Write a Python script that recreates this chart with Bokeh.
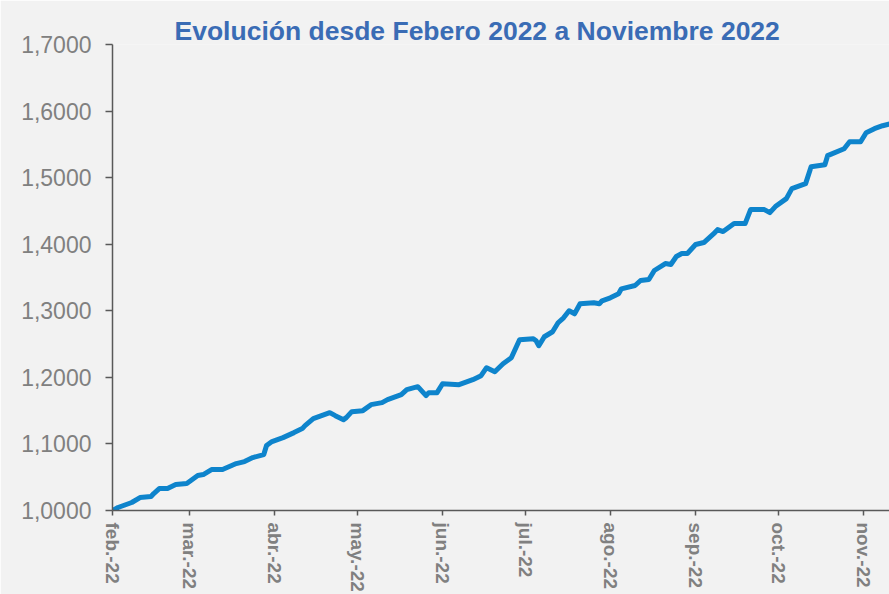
import math
import pandas as pd
from bokeh.plotting import figure
from bokeh.models import FixedTicker, Range1d, ColumnDataSource
from bokeh.embed import file_html
from bokeh.resources import INLINE

title_text = "Evolución desde Febero 2022 a  Noviembre 2022"

dates = [
    "2022-02-01", "2022-02-03", "2022-02-06", "2022-02-08", "2022-02-11", "2022-02-15",
    "2022-02-16", "2022-02-18", "2022-02-21", "2022-02-24", "2022-02-28", "2022-03-02",
    "2022-03-04", "2022-03-06", "2022-03-09", "2022-03-13", "2022-03-18", "2022-03-21",
    "2022-03-24", "2022-03-28", "2022-03-29", "2022-03-31", "2022-04-04", "2022-04-08",
    "2022-04-11", "2022-04-12", "2022-04-15", "2022-04-18", "2022-04-21", "2022-04-23",
    "2022-04-26", "2022-04-27", "2022-04-29", "2022-05-03", "2022-05-06", "2022-05-10",
    "2022-05-12", "2022-05-16", "2022-05-17", "2022-05-19", "2022-05-23", "2022-05-26",
    "2022-05-27", "2022-05-30", "2022-06-01", "2022-06-07", "2022-06-12", "2022-06-15",
    "2022-06-17", "2022-06-20", "2022-06-23", "2022-06-26", "2022-06-29", "2022-07-04",
    "2022-07-05", "2022-07-06", "2022-07-08", "2022-07-11", "2022-07-13", "2022-07-15",
    "2022-07-17", "2022-07-19", "2022-07-21", "2022-07-26", "2022-07-28", "2022-07-29",
    "2022-08-01", "2022-08-04", "2022-08-05", "2022-08-10", "2022-08-12", "2022-08-15",
    "2022-08-17", "2022-08-21", "2022-08-23", "2022-08-25", "2022-08-27", "2022-08-29",
    "2022-09-01", "2022-09-04", "2022-09-08", "2022-09-09", "2022-09-11", "2022-09-15",
    "2022-09-19", "2022-09-21", "2022-09-26", "2022-09-28", "2022-09-30", "2022-10-04",
    "2022-10-06", "2022-10-11", "2022-10-13", "2022-10-18", "2022-10-19", "2022-10-25",
    "2022-10-27", "2022-10-31", "2022-11-02", "2022-11-05", "2022-11-08", "2022-11-11",
]

values = [
    1.0000, 1.0045, 1.0090, 1.0120, 1.0195, 1.0210,
    1.0255, 1.0330, 1.0330, 1.0390, 1.0405, 1.0465,
    1.0525, 1.0540, 1.0615, 1.0615, 1.0705, 1.0735,
    1.0795, 1.0840, 1.0975, 1.1035, 1.1095, 1.1170,
    1.1230, 1.1275, 1.1380, 1.1425, 1.1470, 1.1425,
    1.1365, 1.1395, 1.1485, 1.1500, 1.1590, 1.1620,
    1.1665, 1.1725, 1.1740, 1.1815, 1.1860, 1.1725,
    1.1770, 1.1770, 1.1905, 1.1890, 1.1965, 1.2025,
    1.2145, 1.2085, 1.2205, 1.2295, 1.2565, 1.2580,
    1.2550, 1.2475, 1.2610, 1.2685, 1.2820, 1.2895,
    1.3000, 1.2955, 1.3105, 1.3120, 1.3105, 1.3150,
    1.3195, 1.3255, 1.3330, 1.3380, 1.3455, 1.3470,
    1.3605, 1.3710, 1.3695, 1.3815, 1.3860, 1.3860,
    1.3995, 1.4025, 1.4175, 1.4220, 1.4190, 1.4310,
    1.4310, 1.4520, 1.4520, 1.4475, 1.4565, 1.4685,
    1.4835, 1.4910, 1.5165, 1.5195, 1.5330, 1.5435,
    1.5540, 1.5540, 1.5675, 1.5735, 1.5780, 1.5810,
]

tick_dates = ["2022-02-01", "2022-03-01", "2022-04-01", "2022-05-01", "2022-06-01",
              "2022-07-01", "2022-08-01", "2022-09-01", "2022-10-01", "2022-11-01"]
tick_labels = ["feb.-22", "mar.-22", "abr.-22", "may.-22", "jun.-22",
               "jul.-22", "ago.-22", "sep.-22", "oct.-22", "nov.-22"]

y_ticks = [1.0, 1.1, 1.2, 1.3, 1.4, 1.5, 1.6, 1.7]
y_tick_labels = ["1,0000", "1,1000", "1,2000", "1,3000", "1,4000", "1,5000", "1,6000", "1,7000"]

base = pd.Timestamp(dates[0])
x_days = [int((pd.Timestamp(d) - base).days) for d in dates]
tick_days = [int((pd.Timestamp(d) - base).days) for d in tick_dates]

src = ColumnDataSource(dict(x=x_days, y=values))

BG = "#f2f2f2"
p = figure(width=889, height=594, output_backend="svg", toolbar_location=None,
           x_range=Range1d(0, x_days[-1] - 0.5), y_range=Range1d(y_ticks[0], y_ticks[-1]),
           background_fill_color=BG, border_fill_color=BG,
           min_border_left=112, min_border_right=0, min_border_top=44, min_border_bottom=84)
p.outline_line_color = None
p.grid.visible = False

p.line("x", "y", source=src, line_color="#0E84CC", line_width=5,
       line_join="round", line_cap="round")

p.title.text = title_text
p.title.align = "left"
p.title.offset = 62
p.title.standoff = -3
p.title.text_font = "Liberation Sans"
p.title.text_font_size = "26.5px"
p.title.text_font_style = "bold"
p.title.text_color = "#3A6CB5"

ya = p.yaxis[0]
ya.ticker = FixedTicker(ticks=y_ticks)
ya.major_label_overrides = {t: lab for t, lab in zip(y_ticks, y_tick_labels)}
ya.major_label_text_font = "Liberation Sans"
ya.major_label_text_font_size = "23px"
ya.major_label_text_color = "#808080"
ya.major_label_standoff = 14
ya.major_tick_out = 7
ya.major_tick_in = 0
ya.minor_tick_line_color = None
ya.axis_line_color = "#595959"
ya.axis_line_width = 1.5
ya.major_tick_line_color = "#595959"
ya.major_tick_line_width = 1.5

xa = p.xaxis[0]
xa.ticker = FixedTicker(ticks=tick_days)
xa.major_label_overrides = {t: lab for t, lab in zip(tick_days, tick_labels)}
xa.major_label_orientation = -math.pi / 2
xa.major_label_text_font = "Liberation Sans"
xa.major_label_text_font_size = "19px"
xa.major_label_text_font_style = "bold"
xa.major_label_text_color = "#808080"
xa.major_label_standoff = 7
xa.major_tick_out = 5
xa.major_tick_in = 0
xa.minor_tick_line_color = None
xa.axis_line_color = "#595959"
xa.axis_line_width = 1.5
xa.major_tick_line_color = "#595959"
xa.major_tick_line_width = 1.5

open("out.html", "w").write(file_html(p, INLINE))
